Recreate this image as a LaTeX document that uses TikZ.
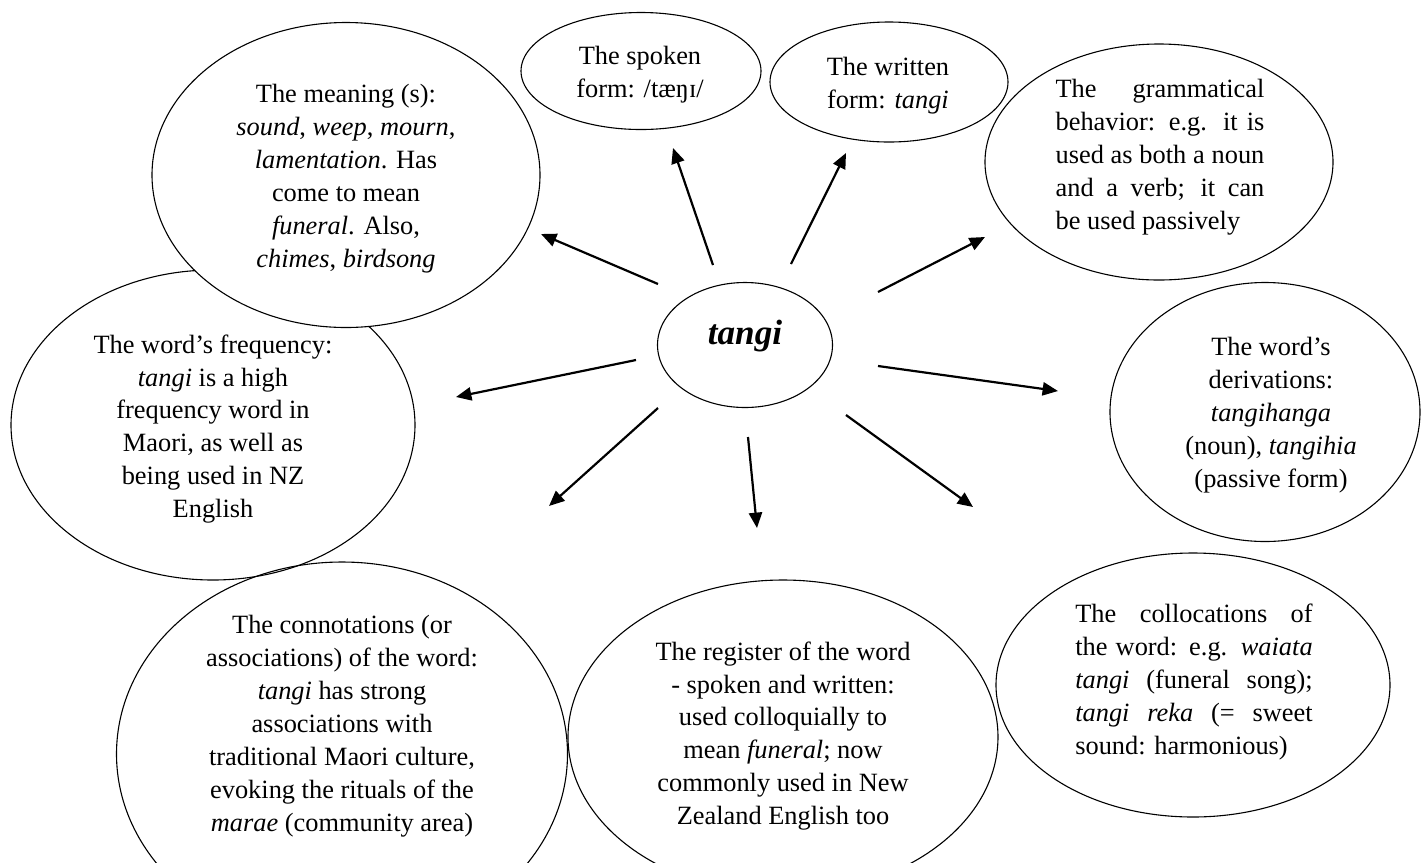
\documentclass[tikz,border=0pt]{standalone}
\usepackage{fontspec}
\setmainfont{Liberation Serif}
\usetikzlibrary{shapes.geometric,arrows.meta}
\begin{document}
\begin{tikzpicture}[x=0.455pt,y=-0.455pt,
  bubble/.style={draw,ellipse,line width=0.5pt,inner sep=0pt},
  txt/.style={align=center,inner sep=0pt,font=\fontsize{12pt}{15pt}\selectfont},
  arr/.style={line width=1pt,-{Triangle[length=7pt,width=6pt]}}]
\useasboundingbox (0,0) rectangle (1422,862);
\clip (0,0) rectangle (1422,862);
% ellipses
\node[bubble,minimum width=404*0.455pt,minimum height=310*0.455pt] (freq) at (213,425) {};
\node[bubble,minimum width=451*0.455pt,minimum height=384*0.455pt] (conn) at (342,754) {};
\node[bubble,minimum width=430*0.455pt,minimum height=314*0.455pt] (reg) at (783,737) {};
\node[bubble,minimum width=394*0.455pt,minimum height=264*0.455pt] (coll) at (1193,685) {};
\node[bubble,minimum width=310*0.455pt,minimum height=259*0.455pt] (deriv) at (1265,412) {};
\node[bubble,minimum width=348*0.455pt,minimum height=236*0.455pt] (gram) at (1159,162) {};
\node[bubble,minimum width=238*0.455pt,minimum height=120*0.455pt] (written) at (889,82) {};
\node[bubble,minimum width=240*0.455pt,minimum height=117*0.455pt] (spoken) at (641,71) {};
\node[bubble,fill=white,minimum width=388*0.455pt,minimum height=305*0.455pt] (mean) at (346,175) {};
\node[bubble,minimum width=175*0.455pt,minimum height=125*0.455pt] (tangi) at (745,345) {};
% texts
\node[inner sep=0pt,anchor=base,font=\fontsize{16pt}{19pt}\selectfont\bfseries\itshape] (tangiT) at (745,344) {tangi};
\node[txt] (spokenT) at (640,75) {The spoken\\form: /tæŋɪ/};
\node[txt] (writtenT) at (888,86) {The written\\form: \textit{tangi}};
\node[txt] (meanT) at (346,179) {The meaning (s):\\\textit{sound}, \textit{weep}, \textit{mourn},\\\textit{lamentation}. Has\\come to mean\\\textit{funeral}. Also,\\\textit{chimes}, \textit{birdsong}};
\node[txt,align=left] (gramT) at (1160,157) {\makebox[95pt][s]{The grammatical}\\\makebox[95pt][s]{behavior: e.g. it is}\\\makebox[95pt][s]{used as both a noun}\\\makebox[95pt][s]{and a verb; it can}\\be used passively};
\node[txt] (freqT) at (213,429) {The word’s frequency:\\\textit{tangi} is a high\\frequency word in\\Maori, as well as\\being used in NZ\\English};
\node[txt] (derivT) at (1271,415) {The word’s\\derivations:\\\textit{tangihanga}\\(noun), \textit{tangihia}\\(passive form)};
\node[txt] (connT) at (342,726) {The connotations (or\\associations) of the word:\\\textit{tangi} has strong\\associations with\\traditional Maori culture,\\evoking the rituals of the\\\textit{marae} (community area)};
\node[txt] (regT) at (783,736) {The register of the word\\- spoken and written:\\used colloquially to\\mean \textit{funeral}; now\\commonly used in New\\Zealand English too};
\node[txt,align=left] (collT) at (1194,682) {\makebox[108pt][s]{The collocations of}\\\makebox[108pt][s]{the word: e.g. \textit{waiata}}\\\makebox[108pt][s]{\textit{tangi} (funeral song);}\\\makebox[108pt][s]{\textit{tangi reka} (= sweet}\\sound: harmonious)};
% arrows
\coordinate (s1) at (658,284); \coordinate (e1) at (541,234);
\coordinate (s2) at (713,265); \coordinate (e2) at (673,148);
\coordinate (s3) at (791,264); \coordinate (e3) at (846,153);
\coordinate (s4) at (878,292); \coordinate (e4) at (985,237);
\coordinate (s5) at (878,366); \coordinate (e5) at (1058,391);
\coordinate (s6) at (636,360); \coordinate (e6) at (456,397);
\coordinate (s7) at (658,408); \coordinate (e7) at (549,506);
\coordinate (s8) at (748,437); \coordinate (e8) at (757,528);
\coordinate (s9) at (846,415); \coordinate (e9) at (973,507);
\foreach \i in {1,...,9} {\draw[arr] (s\i) -- (e\i);}
\end{tikzpicture}
\end{document}
